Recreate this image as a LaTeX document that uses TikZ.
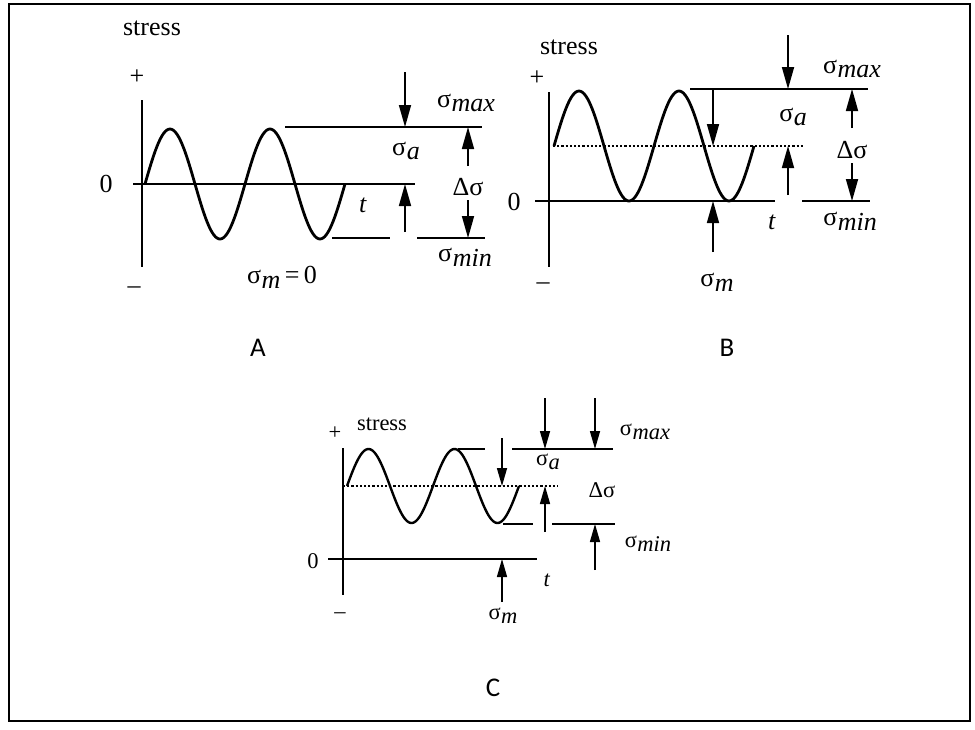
\documentclass[tikz,border=0pt]{standalone}
\usepackage{fontspec}
\setmainfont{Liberation Serif}
\newfontfamily\lblfont{Carlito}
\usetikzlibrary{arrows.meta}
\newcommand\sgsub[2]{σ\kern0.5pt\raisebox{-0.4ex}{\textit{#1}}}
\tikzset{
  axisline/.style={line width=1.6pt},
  levelline/.style={line width=1.7pt},
  wave/.style={line width=2.8pt, line join=round},
  meanline/.style={line width=1.1pt, dash pattern=on 2.2pt off 2pt},
  bigarrow/.style={line width=1.7pt, -{Triangle[length=22pt,width=12pt]}},
  smallarrow/.style={line width=1.5pt, -{Triangle[length=18pt,width=10pt]}},
  txtA/.style={inner sep=0pt, font=\fontsize{26}{30}\selectfont},
  txtC/.style={inner sep=0pt, font=\fontsize{22.5}{26}\selectfont},
  panellabel/.style={inner sep=0pt, font=\lblfont\fontsize{27}{32}\selectfont},
}
\begin{document}
\begin{tikzpicture}[x=1pt,y=-1pt]
\useasboundingbox (0,0) rectangle (975,729);
\draw[line width=1.5pt] (9,4) rectangle (970,721);

%% ---------------- Panel A ----------------
\node[txtA] (Astress) at (152,28) {stress};
\node[txtA] (Aplus) at (137,77) {+};
\node[txtA] (Aminus) at (134,290) {–};
\node[txtA] (Azero) at (106,184) {0};
\node[txtA] (At) at (363,205) {\textit{t}};
\coordinate (Avt) at (142,100); \coordinate (Avb) at (142,267);
\coordinate (Ahl) at (133,184); \coordinate (Ahr) at (415,184);
\draw[axisline] (Avt) -- (Avb);
\draw[axisline] (Ahl) -- (Ahr);
\draw[wave] plot[domain=145:345, samples=120] (\x, {184-55*sin(3.6*(\x-145))});
\coordinate (Amaxl) at (285,127); \coordinate (Amaxr) at (482,127);
\draw[levelline] (Amaxl) -- (Amaxr);
\coordinate (Aminl1) at (332,238); \coordinate (Aminr1) at (390,238);
\coordinate (Aminl2) at (417,238); \coordinate (Aminr2) at (485,238);
\draw[levelline] (Aminl1) -- (Aminr1);
\draw[levelline] (Aminl2) -- (Aminr2);
\coordinate (Aa1s) at (405,72); \coordinate (Aa1e) at (405,127);
\coordinate (Aa2s) at (405,232); \coordinate (Aa2e) at (405,184);
\coordinate (Aa3s) at (468,166); \coordinate (Aa3e) at (468,127);
\coordinate (Aa4s) at (468,200); \coordinate (Aa4e) at (468,238);
\draw[bigarrow] (Aa1s) -- (Aa1e);
\draw[bigarrow] (Aa2s) -- (Aa2e);
\draw[bigarrow] (Aa3s) -- (Aa3e);
\draw[bigarrow] (Aa4s) -- (Aa4e);
\node[txtA] (Asmax) at (466,103) {\sgsub{max}{}};
\node[txtA] (Asa) at (406,151) {\sgsub{a}{}};
\node[txtA] (Ads) at (468,187) {Δσ};
\node[txtA] (Asmin) at (465,257) {\sgsub{min}{}};
\node[txtA] (Asm) at (282,277) {\sgsub{m}{}\,=\,0};
\node[panellabel] (Alab) at (258,348) {A};

%% ---------------- Panel B ----------------
\node[txtA] (Bstress) at (569,47) {stress};
\node[txtA] (Bplus) at (537,78) {+};
\node[txtA] (Bminus) at (543,286) {–};
\node[txtA] (Bzero) at (514,202) {0};
\node[txtA] (Bt) at (772,222) {\textit{t}};
\coordinate (Bvt) at (549,92); \coordinate (Bvb) at (549,267);
\coordinate (Bhl) at (535,201); \coordinate (Bhr) at (775,201);
\draw[axisline] (Bvt) -- (Bvb);
\draw[axisline] (Bhl) -- (Bhr);
\coordinate (Bml) at (553,146); \coordinate (Bmr) at (803,146);
\draw[meanline] (Bml) -- (Bmr);
\draw[wave] plot[domain=554:754, samples=120] (\x, {146-55*sin(3.6*(\x-554))});
\coordinate (Bmaxl) at (690,89); \coordinate (Bmaxr) at (868,89);
\draw[levelline] (Bmaxl) -- (Bmaxr);
\coordinate (Bminl) at (802,201); \coordinate (Bminr) at (870,201);
\draw[levelline] (Bminl) -- (Bminr);
\coordinate (Bb1s) at (788,35); \coordinate (Bb1e) at (788,89);
\coordinate (Bb2s) at (713,90); \coordinate (Bb2e) at (713,146);
\coordinate (Bb3s) at (788,195); \coordinate (Bb3e) at (788,146);
\coordinate (Bb4s) at (852,128); \coordinate (Bb4e) at (852,89);
\coordinate (Bb5s) at (852,163); \coordinate (Bb5e) at (852,201);
\coordinate (Bb6s) at (713,252); \coordinate (Bb6e) at (713,201);
\draw[bigarrow] (Bb1s) -- (Bb1e);
\draw[bigarrow] (Bb2s) -- (Bb2e);
\draw[bigarrow] (Bb3s) -- (Bb3e);
\draw[bigarrow] (Bb4s) -- (Bb4e);
\draw[bigarrow] (Bb5s) -- (Bb5e);
\draw[bigarrow] (Bb6s) -- (Bb6e);
\node[txtA] (Bsmax) at (852,69) {\sgsub{max}{}};
\node[txtA] (Bsa) at (793,117) {\sgsub{a}{}};
\node[txtA] (Bds) at (852,150) {Δσ};
\node[txtA] (Bsmin) at (850,221) {\sgsub{min}{}};
\node[txtA] (Bsm) at (717,282) {\sgsub{m}{}};
\node[panellabel] (Blab) at (727,348) {B};

%% ---------------- Panel C ----------------
\node[txtC] (Cstress) at (382,424) {stress};
\node[txtC] (Cplus) at (335,433) {+};
\node[txtC] (Cminus) at (340,616) {–};
\node[txtC] (Czero) at (313,561) {0};
\node[txtC] (Ct) at (547,580) {\textit{t}};
\coordinate (Cvt) at (343,448); \coordinate (Cvb) at (343,595);
\coordinate (Chl) at (328,559); \coordinate (Chr) at (537,559);
\draw[axisline] (Cvt) -- (Cvb);
\draw[axisline] (Chl) -- (Chr);
\coordinate (Cml) at (343,486); \coordinate (Cmr) at (558,486);
\draw[meanline] (Cml) -- (Cmr);
\draw[wave, line width=2.4pt] plot[domain=347:519, samples=120] (\x, {486-37*sin(4.186*(\x-347))});
\coordinate (Cmaxl1) at (458,449); \coordinate (Cmaxr1) at (485,449);
\coordinate (Cmaxl2) at (512,449); \coordinate (Cmaxr2) at (613,449);
\draw[levelline] (Cmaxl1) -- (Cmaxr1);
\draw[levelline] (Cmaxl2) -- (Cmaxr2);
\coordinate (Cminl1) at (503,524); \coordinate (Cminr1) at (533,524);
\coordinate (Cminl2) at (552,524); \coordinate (Cminr2) at (615,524);
\draw[levelline] (Cminl1) -- (Cminr1);
\draw[levelline] (Cminl2) -- (Cminr2);
\coordinate (Cc1s) at (545,398); \coordinate (Cc1e) at (545,449);
\coordinate (Cc2s) at (595,398); \coordinate (Cc2e) at (595,449);
\coordinate (Cc3s) at (502,438); \coordinate (Cc3e) at (502,486);
\coordinate (Cc4s) at (545,532); \coordinate (Cc4e) at (545,486);
\coordinate (Cc5s) at (595,570); \coordinate (Cc5e) at (595,524);
\coordinate (Cc6s) at (502,602); \coordinate (Cc6e) at (502,559);
\draw[smallarrow] (Cc1s) -- (Cc1e);
\draw[smallarrow] (Cc2s) -- (Cc2e);
\draw[smallarrow] (Cc3s) -- (Cc3e);
\draw[smallarrow] (Cc4s) -- (Cc4e);
\draw[smallarrow] (Cc5s) -- (Cc5e);
\draw[smallarrow] (Cc6s) -- (Cc6e);
\node[txtC] (Csmax) at (645,432) {\sgsub{max}{}};
\node[txtC] (Csa) at (548,462) {\sgsub{a}{}};
\node[txtC] (Cds) at (602,490) {Δσ};
\node[txtC] (Csmin) at (648,544) {\sgsub{min}{}};
\node[txtC] (Csm) at (503,616) {\sgsub{m}{}};
\node[panellabel] (Clab) at (493,688) {C};
\end{tikzpicture}
\end{document}
